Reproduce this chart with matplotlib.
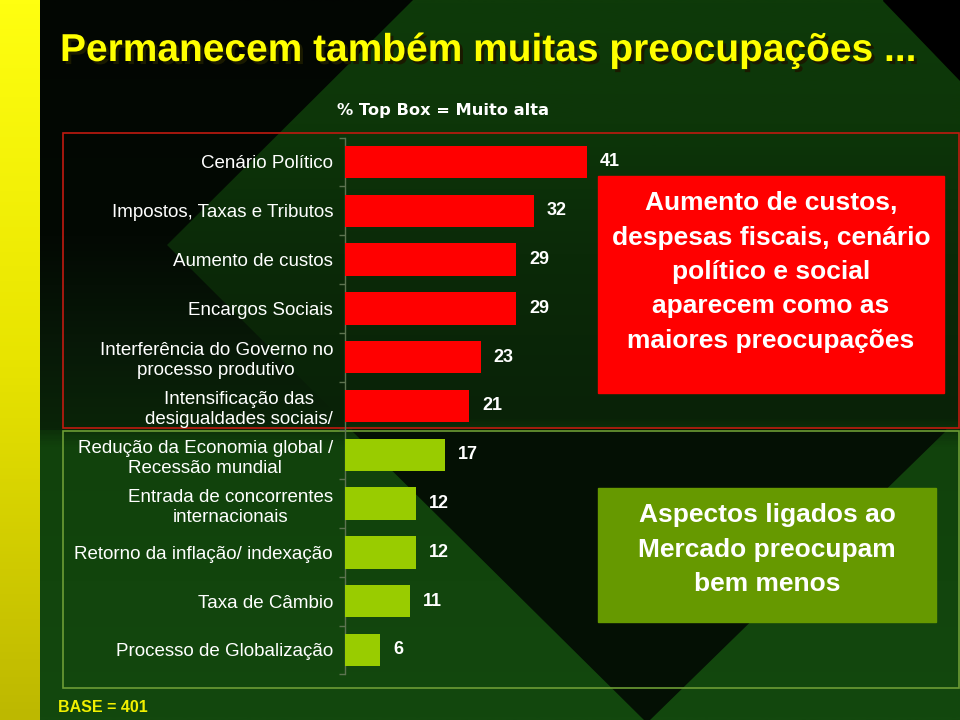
import matplotlib
matplotlib.use("Agg")
import matplotlib.pyplot as plt
import numpy as np
import matplotlib.patheffects as pe
from matplotlib.patches import Polygon, Rectangle
from matplotlib.colors import LinearSegmentedColormap

# ---------------- data ----------------
categories = [
    "Cenário Político",
    "Impostos, Taxas e Tributos",
    "Aumento de custos",
    "Encargos Sociais",
    "Interferência do Governo no\nprocesso produtivo",
    "Intensificação das\ndesigualdades sociais/",
    "Redução da Economia global /\nRecessão mundial",
    "Entrada de concorrentes\ninternacionais",
    "Retorno da inflação/ indexação",
    "Taxa de Câmbio",
    "Processo de Globalização",
]
values = [41, 32, 29, 29, 23, 21, 17, 12, 12, 11, 6]
groups = ["macro"] * 6 + ["mercado"] * 5

title = "Permanecem também muitas preocupações ..."
subtitle = "% Top Box = Muito alta"
base_note = "BASE = 401"
red_note = "Aumento de custos,\ndespesas fiscais, cenário\npolítico e social\naparecem como as\nmaiores preocupações"
green_note = "Aspectos ligados ao\nMercado preocupam\nbem menos"

group_colors = {"macro": "#FF0000", "mercado": "#99CC00"}

# ---------------- figure / background ----------------
W, H = 960, 720
fig = plt.figure(figsize=(9.6, 7.2), dpi=100)
bg = fig.add_axes([0, 0, 1, 1])
bg.axis("off")

# vertical gradient of the green base
gcmap = LinearSegmentedColormap.from_list(
    "g", [(0.0, "#0e3a09"), (0.17, "#0d3609"), (0.35, "#0b2a08"), (0.58, "#092207"),
          (0.62, "#11420c"), (1.0, "#13480e")])
bg.imshow(np.linspace(0, 1, 400)[:, None], extent=(0, W, H, 0), cmap=gcmap,
          aspect="auto", zorder=0)

# top-left dark arrow region (black fading to dark green)
poly_a = Polygon([(40, 0), (413, 0), (167, 245), (352, 430), (40, 430)], closed=True,
                 facecolor="none", edgecolor="none", zorder=1)
bg.add_patch(poly_a)
acmap = LinearSegmentedColormap.from_list(
    "a", [(0.0, "#020602"), (0.55, "#030903"), (0.78, "#071707"), (1.0, "#0a2408")])
ima = bg.imshow(np.linspace(0, 1, 300)[:, None], extent=(40, 413, 430, 0), cmap=acmap,
                aspect="auto", zorder=1)
ima.set_clip_path(poly_a)
# top-right black triangle
bg.add_patch(Polygon([(883, 0), (960, 0), (960, 80)], closed=True, color="#000000", zorder=1))
# bottom black V
bg.add_patch(Polygon([(352, 430), (946, 430), (647, 722)], closed=True, color="#041004", zorder=1))

# yellow strip
ycmap = LinearSegmentedColormap.from_list("y", ["#ffff10", "#e8e400", "#bdb800"])
bg.imshow(np.linspace(0, 1, 200)[:, None], extent=(0, 40, H, 0), cmap=ycmap,
          aspect="auto", zorder=2)
bg.set_xlim(0, W)
bg.set_ylim(H, 0)

# group frames
bg.add_patch(Rectangle((63, 133), 896, 295, fill=False, edgecolor="#c01a10", lw=1.2, zorder=3))
bg.add_patch(Rectangle((63, 431), 896, 257, fill=False, edgecolor="#6d9c35", lw=1.2, zorder=3))

# title with shadow, fitted to the reference width
tfam = ["Liberation Sans Narrow", "Liberation Sans", "DejaVu Sans"]
tfs = 30
tt = bg.text(60, 61, title, color="#ffff00", ha="left", va="baseline", zorder=5,
             family=tfam, fontweight="bold", fontsize=tfs,
             path_effects=[pe.withSimplePatchShadow(offset=(2.2, -2.2),
                                                     shadow_rgbFace="#1a1a00", alpha=1.0)])
fig.canvas.draw()
wpx = tt.get_window_extent().width
tt.set_fontsize(tfs * 857.0 / wpx)

bg.text(443, 111, subtitle, color="white", ha="center", va="center", fontsize=11.7,
        fontweight="bold", family=["DejaVu Sans"], zorder=5)

bg.text(58, 707, base_note, color="#f0f000", ha="left", va="center", fontsize=11.5,
        fontweight="bold", family=["Liberation Sans", "DejaVu Sans"], zorder=5)

# annotation boxes
bg.add_patch(Rectangle((598, 176), 346, 217, color="#FF0000", zorder=3))
bg.text(771, 272, red_note, color="white", ha="center", va="center", fontsize=19,
        fontweight="bold", family=["Liberation Sans", "DejaVu Sans"], linespacing=1.55,
        multialignment="center", zorder=5)
bg.add_patch(Rectangle((598, 488), 338, 134, color="#669900", zorder=3))
bg.text(767, 549.5, green_note, color="white", ha="center", va="center", fontsize=19,
        fontweight="bold", family=["Liberation Sans", "DejaVu Sans"], linespacing=1.55,
        multialignment="center", zorder=5)

# ---------------- bar chart ----------------
top_px, bot_px = 137.6, 674.4
left_px, right_px = 345, 935
ax = fig.add_axes([left_px / W, 1 - bot_px / H, (right_px - left_px) / W, (bot_px - top_px) / H])
ax.patch.set_alpha(0)
ypos = np.arange(len(categories))
colors = [group_colors[g] for g in groups]
ax.barh(ypos, values, height=0.66, color=colors, edgecolor="none", zorder=3)
ax.set_xlim(0, 100)
ax.set_ylim(len(categories) - 0.5, -0.5)

for s in ["top", "right", "bottom"]:
    ax.spines[s].set_visible(False)
ax.spines["left"].set_color("#5d7350")
ax.spines["left"].set_linewidth(1.0)
ax.xaxis.set_visible(False)

ax.set_yticks(ypos)
ax.set_yticklabels(categories)
ax.set_yticks(np.arange(len(categories) + 1) - 0.5, minor=True)
ax.tick_params(axis="y", which="major", length=0, pad=8.6, labelcolor="white")
ax.tick_params(axis="y", which="minor", length=4.5, width=1.0, color="#5d7350")
for lbl in ax.get_yticklabels():
    lbl.set_family(["Liberation Sans", "DejaVu Sans"])
    lbl.set_fontsize(13.5)
    lbl.set_multialignment("center")
    lbl.set_linespacing(1.25)

for y, v in zip(ypos, values):
    ax.annotate(str(v), (v, y), xytext=(13, 0), textcoords="offset pixels",
                ha="left", va="center", color="white", fontsize=13, fontweight="bold",
                family=["Liberation Sans", "DejaVu Sans"])

fig.savefig("out.png", dpi=100)
